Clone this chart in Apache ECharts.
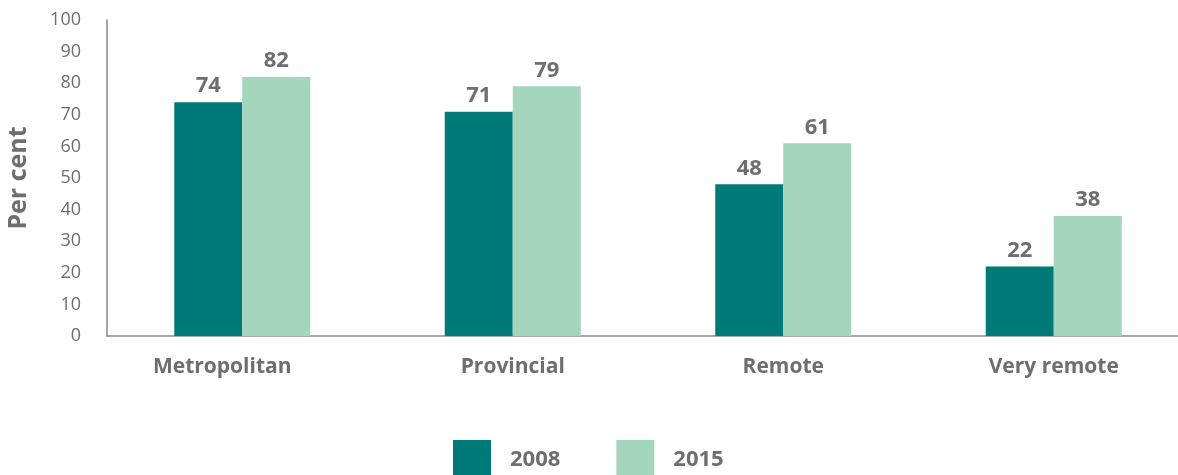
<!DOCTYPE html>
<html>
<head>
<meta charset="utf-8">
<script src="https://cdn.jsdelivr.net/npm/echarts@6/dist/echarts.min.js"></script>
<style>html,body{margin:0;padding:0;background:#fff}#c{width:1178px;height:475px}</style>
</head>
<body>
<div id="c"></div>
<script>
const categories = ['Metropolitan', 'Provincial', 'Remote', 'Very remote'];
const seriesNames = ['2008', '2015'];
const values2008 = [74, 71, 48, 22];
const values2015 = [82, 79, 61, 38];
const yTicks = [0, 10, 20, 30, 40, 50, 60, 70, 80, 90, 100];

const FONT = '"Open Sans", Lato, sans-serif';
const GRAY = '#6d6e71';
const chart = echarts.init(document.getElementById('c'));
const labelCfg = { show: true, position: 'top', color: GRAY, fontFamily: FONT, fontWeight: 'bold', fontSize: 22, distance: 5 };
chart.setOption({
  animation: false,
  legend: {
    top: 440, left: 453, padding: 0,
    itemWidth: 38, itemHeight: 40, itemGap: 56,
    icon: 'rect',
    textStyle: { color: GRAY, fontFamily: FONT, fontWeight: 'bold', fontSize: 22, padding: [0, 0, 0, 14] },
    data: seriesNames
  },
  grid: { left: 107, top: 20, width: 1082, height: 316, outerBoundsMode: 'none' },
  xAxis: {
    type: 'category', data: categories,
    axisLine: { lineStyle: { color: '#8a8a8a', width: 1.5 } },
    axisTick: { show: false },
    axisLabel: {
      interval: 0, hideOverlap: false,
      color: GRAY, fontFamily: FONT, fontWeight: 'bold', fontSize: 21, margin: 21,
      formatter: function (v, i) { return i === 0 ? '{first|' + v + '}' : v; },
      rich: { first: { color: GRAY, fontFamily: FONT, fontWeight: 'bold', fontSize: 21, padding: [0, 40, 0, 0] } }
    }
  },
  yAxis: {
    type: 'value', min: yTicks[0], max: yTicks[yTicks.length - 1], interval: 10,
    name: 'Per cent', nameLocation: 'middle', nameGap: 76, nameRotate: 90,
    nameTextStyle: { color: GRAY, fontFamily: FONT, fontWeight: 'bold', fontSize: 25 },
    axisLine: { show: true, lineStyle: { color: '#8a8a8a', width: 1.5 } },
    axisTick: { show: false },
    splitLine: { show: false },
    axisLabel: { color: GRAY, fontFamily: FONT, fontSize: 18, margin: 26 }
  },
  series: [
    { name: seriesNames[0], type: 'bar', data: values2008, barWidth: 68, barGap: '0%', itemStyle: { color: '#007a78' }, label: labelCfg },
    { name: seriesNames[1], type: 'bar', data: values2015, barWidth: 68, barGap: '0%', itemStyle: { color: '#a4d5bd' }, label: labelCfg }
  ]
});
</script>
</body>
</html>
